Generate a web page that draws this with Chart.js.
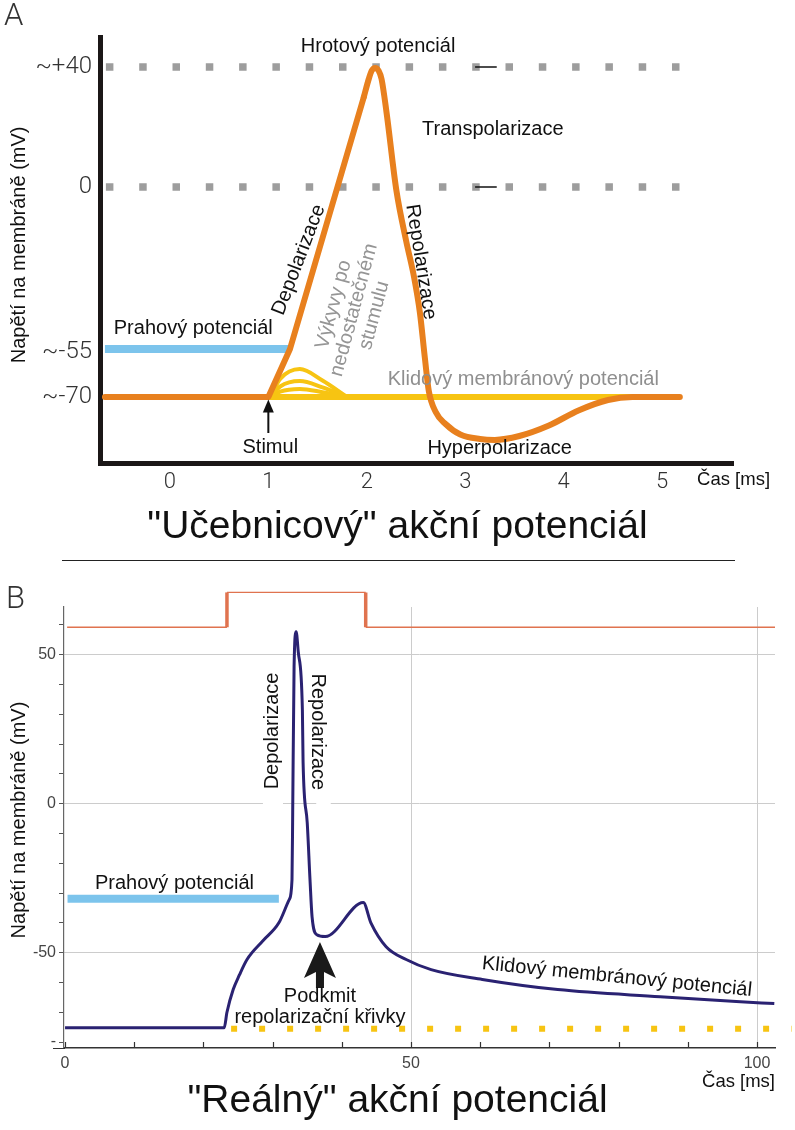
<!DOCTYPE html>
<html lang="cs">
<head>
<meta charset="UTF-8">
<title>Akční potenciál</title>
<script src="https://cdn.jsdelivr.net/npm/chart.js"></script>
<style>
  body { margin: 0; background: #fff; }
  #page { position: relative; width: 795px; height: 1130px; overflow: hidden; }
  .box { position: absolute; left: 0; width: 795px; }
  .letter { position: absolute; font: 300 31px Roboto, sans-serif; color: #333; line-height: 1; }
  .title { position: absolute; left: 0; width: 795px; text-align: center; line-height: 1;
           font: 39px "Liberation Sans", Arial, sans-serif; color: #111; }
  .sep { position: absolute; left: 62px; top: 560px; width: 673px; height: 1px; background: #222; }
</style>
</head>
<body>
<div id="page">
  <div class="box" style="top:0;height:560px"><canvas id="chartA"></canvas></div>
  <div class="box" style="top:560px;height:570px"><canvas id="chartB"></canvas></div>
  <div class="letter" style="left:4px;top:-1px">A</div>
  <div class="letter" style="left:6px;top:582px">B</div>
  <div class="title" style="top:503px">"Učebnicový" akční potenciál</div>
  <div class="sep"></div>
  <div class="title" style="top:1077px">"Reálný" akční potenciál</div>
</div>

<script>
// ---------- A: textbook action potential (time ms, voltage mV) ----------
const xTicksA = [0, 1, 2, 3, 4, 5];
const yTicksA = [40, 0, -55, -70];
const yTickLabelsA = ['~+40', '0', '~-55', '~-70'];

const riseTimeA = [-0.66, 1.0, 1.22, 1.97];
const riseVoltA = [-70, -70, -54, 30];

const spikeTimeA = [1.97, 2.02, 2.05, 2.085, 2.12, 2.15, 2.2, 2.3, 2.4, 2.48, 2.54, 2.59, 2.63, 2.7, 2.8, 2.95, 3.15, 3.3, 3.55, 3.85, 4.15, 4.45, 4.7, 5.18];
const spikeVoltA = [30, 36, 38.8, 39.7, 38.8, 36, 25, -1, -18, -30, -42, -57, -68, -75, -79, -82.5, -84, -84.3, -83, -79.5, -74.5, -71, -70, -70];

const bumpTimeA = [1.02, 1.12, 1.32, 1.55, 1.8];
const bumpVoltA = [
  [-70, -64, -60.7, -64.5, -70],
  [-70, -66.5, -64.7, -66.8, -70],
  [-70, -68.2, -67.3, -68.4, -70]
];

const restSpanA = [1.0, 5.18];
const restLevelA = -70;
const thresholdSpanA = [-0.66, 1.22];
const thresholdLevelA = -54;
const refSpanA = [-0.65, 5.2];
const refLevelsA = [40, 0];

// ---------- B: recorded action potential ----------
const xTicksB = [0, 10, 20, 30, 40, 50, 60, 70, 80, 90, 100];
const xLabelsB = [0, 50, 100];
const yTicksB = [-80, -70, -60, -50, -40, -30, -20, -10, 0, 10, 20, 30, 40, 50, 60];
const yLabelsB = { '-80': '-', '-50': '-50', '0': '0', '50': '50' };

const traceTimeB = [0, 23.0, 23.4, 24.3, 25.2, 26.3, 28.6, 30.9, 32.4, 32.8, 32.9, 33.1, 33.4, 33.7, 34.3, 34.4, 35.0, 35.4, 35.7, 36.4, 37.6, 43.1, 44.2, 46.4, 49.3, 52.9, 60.3, 71.2, 86.0, 97.0, 102.5];
const traceVoltB = [-75.2, -75.2, -70, -62.4, -57.5, -52.3, -46, -40, -32.2, -25.5, -3, 46, 57.7, 51, 31.5, 14, -6.4, -25.5, -38, -44, -44.6, -33.2, -40, -48, -52.3, -55.7, -59, -62.4, -64.8, -66.4, -67.1];

const stimTimeB = [0.3, 23.4, 23.4, 43.45, 43.45, 102.6];
const stimLevelB = [59.2, 59.2, 70.9, 70.9, 59.2, 59.2];

const thresholdSpanB = [0.36, 30.9];
const thresholdLevelB = -31.9;
const restSpanB = [24, 105];
const restLevelB = -75.5;

// ---------- helpers ----------
const SANS = '"Liberation Sans", Arial, sans-serif';
const pts = (xs, ys) => xs.map((x, i) => ({ x: x, y: ys[i] }));
const flat = (span, level) => span.map(x => ({ x: x, y: level }));

function label(ctx, txt, px, py, o) {
  o = o || {};
  const size = o.size || 20;
  ctx.save();
  ctx.translate(px, py);
  ctx.rotate((o.rot || 0) * Math.PI / 180);
  ctx.fillStyle = o.color || '#111';
  ctx.font = (o.weight || 'normal') + ' ' + size + 'px ' + (o.family || SANS);
  ctx.textAlign = o.align || 'center';
  ctx.textBaseline = 'middle';
  const rows = txt.split('\n');
  const lh = o.lh || size * 1.05;
  rows.forEach((r, i) => ctx.fillText(r, 0, (i - (rows.length - 1) / 2) * lh));
  ctx.restore();
}

// labels of chart A, placed in data units
const notesA = [
  { t: 'Hrotový potenciál', x: 2.115, y: 47 },
  { t: 'Transpolarizace', x: 3.28, y: 19.3 },
  { t: 'Depolarizace', x: 1.31, y: -24.3, rot: -69 },
  { t: 'Repolarizace', x: 2.55, y: -25, rot: 81 },
  { t: 'Výkyvy po\nnedostatečném\nstumulu', x: 1.87, y: -41, rot: -75, color: '#959595', lh: 21 },
  { t: 'Prahový potenciál', x: -0.57, y: -47.3, align: 'left' },
  { t: 'Klidový membránový potenciál', x: 3.59, y: -64.3, color: '#8f8f8f' },
  { t: 'Stimul', x: 1.02, y: -86.7 },
  { t: 'Hyperpolarizace', x: 3.35, y: -87.3 },
  { t: 'Čas [ms]', x: 5.355, y: -97.7, align: 'left', size: 18.5 },
  { t: 'Napětí na membráně (mV)', x: -1.523, y: -19.3, rot: -90 }
];

const annotateA = {
  id: 'annotateA',
  afterDatasetsDraw(chart) {
    const { ctx, scales: { x, y } } = chart;
    ctx.save();
    // short leader marks on the +40 and 0 levels
    ctx.strokeStyle = '#111';
    ctx.lineWidth = 1.5;
    refLevelsA.forEach(v => {
      ctx.beginPath();
      ctx.moveTo(x.getPixelForValue(3.1), y.getPixelForValue(v));
      ctx.lineTo(x.getPixelForValue(3.32), y.getPixelForValue(v));
      ctx.stroke();
    });
    // stimulus arrow
    const ax = x.getPixelForValue(1.0);
    const tip = y.getPixelForValue(-70.8);
    ctx.lineWidth = 2;
    ctx.beginPath();
    ctx.moveTo(ax, y.getPixelForValue(-82));
    ctx.lineTo(ax, tip + 8);
    ctx.stroke();
    ctx.fillStyle = '#111';
    ctx.beginPath();
    ctx.moveTo(ax, tip);
    ctx.lineTo(ax - 5.5, tip + 13);
    ctx.lineTo(ax + 5.5, tip + 13);
    ctx.closePath();
    ctx.fill();
    notesA.forEach(n => label(ctx, n.t, x.getPixelForValue(n.x), y.getPixelForValue(n.y), n));
    ctx.restore();
  }
};

new Chart(document.getElementById('chartA'), {
  type: 'line',
  data: {
    datasets: [
      { data: pts(riseTimeA, riseVoltA), borderColor: '#e8801e', borderWidth: 6, tension: 0,
        borderJoinStyle: 'round', borderCapStyle: 'round' },
      { data: pts(spikeTimeA, spikeVoltA), borderColor: '#e8801e', borderWidth: 6,
        cubicInterpolationMode: 'monotone', borderCapStyle: 'round', borderJoinStyle: 'round' },
      { data: flat(thresholdSpanA, thresholdLevelA), borderColor: '#7cc4ec', borderWidth: 8 },
      { data: flat(restSpanA, restLevelA), borderColor: '#f7c412', borderWidth: 6 },
      ...bumpVoltA.map(v => ({ data: pts(bumpTimeA, v), borderColor: '#f7c412', borderWidth: 4,
        cubicInterpolationMode: 'monotone' })),
      ...refLevelsA.map(v => ({ data: flat(refSpanA, v), borderColor: '#9d9d9d', borderWidth: 7.5,
        borderDash: [7.5, 25.8], borderCapStyle: 'butt' }))
    ]
  },
  options: {
    responsive: true,
    maintainAspectRatio: false,
    animation: false,
    layout: { padding: { left: 0, right: 62, top: 37, bottom: 0 } },
    elements: { point: { radius: 0 } },
    plugins: { legend: { display: false }, tooltip: { enabled: false } },
    scales: {
      x: {
        type: 'linear', min: -0.71, max: 5.72,
        afterFit(s) { s.height = 97; },
        afterBuildTicks(s) { s.ticks = xTicksA.map(v => ({ value: v })); },
        grid: { display: false, drawTicks: false },
        border: { display: true, color: '#1b1717', width: 5 },
        ticks: { padding: 6, color: '#333', maxRotation: 0, autoSkip: false,
                 font: { family: 'Roboto', weight: 300, size: 22 } }
      },
      y: {
        min: -92, max: 50,
        afterFit(s) { s.width = 100; },
        afterBuildTicks(s) { s.ticks = yTicksA.map(v => ({ value: v })); },
        grid: { display: false, drawTicks: false },
        border: { display: true, color: '#1b1717', width: 5 },
        ticks: { padding: 8, color: '#333', autoSkip: false,
                 font: { family: 'Roboto', weight: 300, size: 24 },
                 callback: v => yTickLabelsA[yTicksA.indexOf(v)] }
      }
    }
  },
  plugins: [annotateA]
});

// labels of chart B, placed in data units
const notesB = [
  { t: 'Prahový potenciál', x: 4.33, y: -26.95, align: 'left' },
  { t: 'Depolarizace', x: 30.05, y: 24.4, rot: -90 },
  { t: 'Repolarizace', x: 36.55, y: 24.1, rot: 90 },
  { t: 'Podkmit\nrepolarizační křivky', x: 36.84, y: -68.4, lh: 21 },
  { t: 'Klidový membránový potenciál', x: 79.76, y: -58.2, rot: 5.7 },
  { t: 'Čas [ms]', x: 102.6, y: -93.4, align: 'right', size: 18.5 },
  { t: 'Napětí na membráně (mV)', x: -6.65, y: -5.5, rot: -90 }
];

const annotateB = {
  id: 'annotateB',
  beforeDatasetsDraw(chart) {
    const { ctx, scales: { x, y } } = chart;
    // white boxes behind the rotated labels break the 0 grid line
    ctx.save();
    ctx.fillStyle = '#fff';
    [[28.6, 31.5], [36.3, 38.4]].forEach(g => {
      const x0 = x.getPixelForValue(g[0]);
      ctx.fillRect(x0, y.getPixelForValue(3), x.getPixelForValue(g[1]) - x0, y.getPixelForValue(-3) - y.getPixelForValue(3));
    });
    ctx.restore();
  },
  afterDatasetsDraw(chart) {
    const { ctx, scales: { x, y } } = chart;
    ctx.save();
    // inward ticks on the time axis
    const base = y.getPixelForValue(y.min);
    ctx.strokeStyle = '#333';
    ctx.lineWidth = 1.2;
    ctx.beginPath();
    xTicksB.forEach(t => {
      const px = Math.round(x.getPixelForValue(t)) + 0.5;
      ctx.moveTo(px, base);
      ctx.lineTo(px, base - 6);
    });
    ctx.moveTo(x.getPixelForValue(-1.74), base + 0.5);
    ctx.lineTo(x.getPixelForValue(0), base + 0.5);
    ctx.stroke();
    // undershoot arrow
    const ax = x.getPixelForValue(36.84);
    const hw = x.getPixelForValue(36.84 + 2.31) - ax;
    const sw = x.getPixelForValue(36.84 + 0.58) - ax;
    ctx.fillStyle = '#1a1a1a';
    ctx.beginPath();
    ctx.moveTo(ax, y.getPixelForValue(-46.4));
    ctx.lineTo(ax + hw, y.getPixelForValue(-58.5));
    ctx.lineTo(ax + sw, y.getPixelForValue(-56.5));
    ctx.lineTo(ax + sw, y.getPixelForValue(-61.9));
    ctx.lineTo(ax - sw, y.getPixelForValue(-61.9));
    ctx.lineTo(ax - sw, y.getPixelForValue(-56.5));
    ctx.lineTo(ax - hw, y.getPixelForValue(-58.5));
    ctx.closePath();
    ctx.fill();
    notesB.forEach(n => label(ctx, n.t, x.getPixelForValue(n.x), y.getPixelForValue(n.y), n));
    ctx.restore();
  }
};

new Chart(document.getElementById('chartB'), {
  type: 'line',
  data: {
    datasets: [
      { data: pts(traceTimeB, traceVoltB), borderColor: '#2a2272', borderWidth: 3,
        cubicInterpolationMode: 'monotone', clip: false },
      { data: pts(stimTimeB, stimLevelB), borderColor: '#e0734f', borderWidth: 1.3, clip: false,
        segment: { borderWidth: c => (c.p0.parsed.x === c.p1.parsed.x ? 3.5 : 1.3) } },
      { data: flat(thresholdSpanB, thresholdLevelB), borderColor: '#7cc4ec', borderWidth: 8 },
      { data: flat(restSpanB, restLevelB), borderColor: '#f7c412', borderWidth: 6,
        borderDash: [6, 22], borderCapStyle: 'butt', clip: false }
    ]
  },
  options: {
    responsive: true,
    maintainAspectRatio: false,
    animation: false,
    layout: { padding: { left: 0, right: 20, top: 47, bottom: 0 } },
    elements: { point: { radius: 0 } },
    plugins: { legend: { display: false }, tooltip: { enabled: false } },
    scales: {
      x: {
        type: 'linear', min: -0.15, max: 102.6,
        afterFit(s) { s.height = 82; },
        afterBuildTicks(s) { s.ticks = xTicksB.map(v => ({ value: v })); },
        grid: { drawTicks: false, color: c => ((c.tick && c.tick.value > 0 && c.tick.value % 50 === 0) ? '#cccccc' : 'rgba(0,0,0,0)') },
        border: { display: true, color: '#333', width: 1.5 },
        ticks: { padding: 6, color: '#444', maxRotation: 0, autoSkip: false,
                 font: { family: 'Liberation Sans', size: 16 },
                 callback: v => (xLabelsB.includes(v) ? String(v) : '') }
      },
      y: {
        min: -82, max: 66,
        afterFit(s) { s.width = 64; },
        afterBuildTicks(s) { s.ticks = yTicksB.map(v => ({ value: v })); },
        grid: { drawTicks: true, tickLength: 5, tickColor: '#555',
                color: c => ((c.tick && c.tick.value % 50 === 0) ? '#cccccc' : 'rgba(0,0,0,0)') },
        border: { display: true, color: '#666', width: 1.2 },
        ticks: { padding: 3, color: '#444', autoSkip: false,
                 font: { family: 'Liberation Sans', size: 16 },
                 callback: v => (yLabelsB[String(v)] || '') }
      }
    }
  },
  plugins: [annotateB]
});
</script>
</body>
</html>
